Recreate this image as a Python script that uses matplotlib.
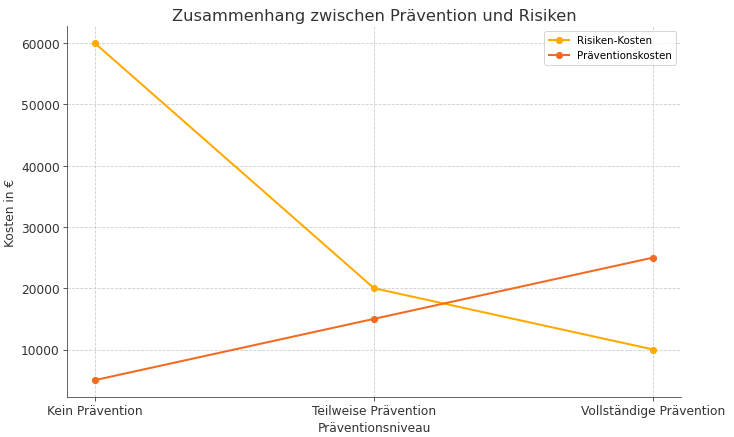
import matplotlib
matplotlib.use("Agg")
import matplotlib.pyplot as plt

levels = ["Kein Prävention", "Teilweise Prävention", "Vollständige Prävention"]
risk_costs = [60000, 20000, 10000]
prevention_costs = [5000, 15000, 25000]

fig, ax = plt.subplots(figsize=(10, 5.967), dpi=73.4)
fig.subplots_adjust(left=0.091, right=0.928, top=0.938, bottom=0.0913)

ax.plot(levels, risk_costs, marker="o", color="#FFAA00", label="Risiken-Kosten", linewidth=2)
ax.plot(levels, prevention_costs, marker="o", color="#F26B21", label="Präventionskosten", linewidth=2)

ax.set_title("Zusammenhang zwischen Prävention und Risiken", fontsize=16, color="#333333")
ax.set_xlabel("Präventionsniveau", fontsize=12, color="#333333")
ax.set_ylabel("Kosten in €", fontsize=12, color="#333333")
ax.tick_params(labelsize=12, colors="#333333")
ax.grid(True, linestyle="--", color="#cccccc", linewidth=0.8)
ax.spines["top"].set_visible(False)
ax.spines["right"].set_visible(False)
ax.spines["left"].set_color("#444444")
ax.spines["bottom"].set_color("#444444")
ax.legend(fontsize=10, loc="upper right")

fig.savefig("out.png", dpi=73.4)
